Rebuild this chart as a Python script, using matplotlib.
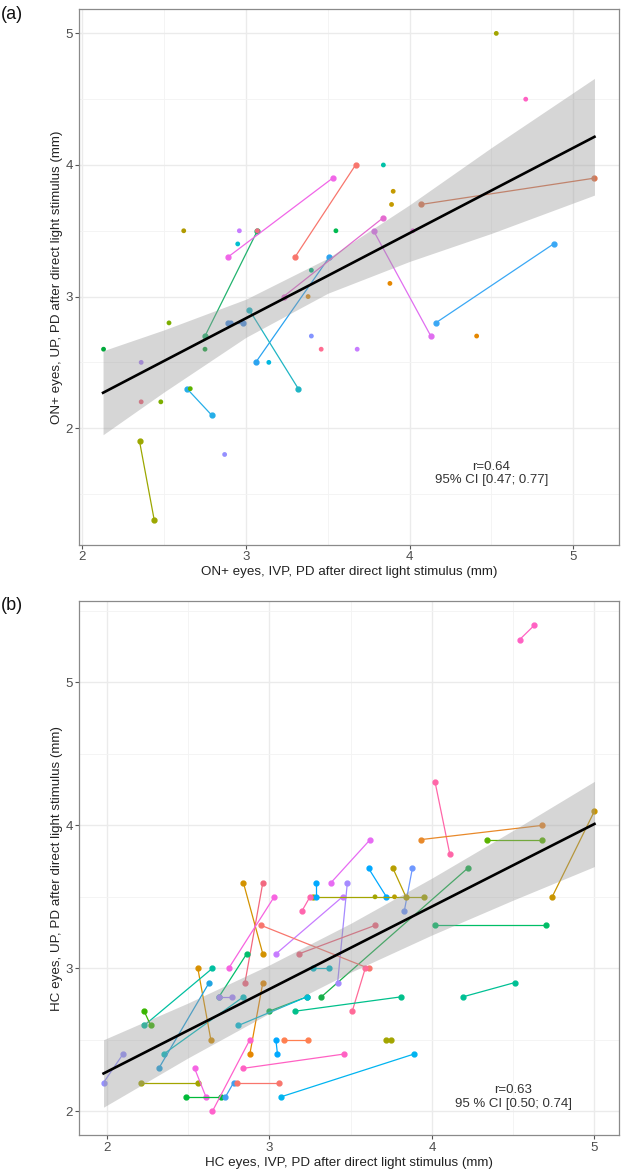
import numpy as np
import matplotlib
matplotlib.use("Agg")
import matplotlib.pyplot as plt
from matplotlib.ticker import MultipleLocator

plt.rcParams['font.family'] = ['Liberation Sans', 'DejaVu Sans']

# ---- panel (a): ON+ eyes, paired eyes joined by a line ----
a_x1 = [3.07, 2.89, 3.30, 3.06, 3.23, 4.07, 3.78, 4.88, 2.89, 3.02, 2.64, 2.35]
a_y1 = [3.50, 3.30, 3.30, 2.50, 3.00, 3.70, 3.50, 3.40, 2.80, 2.90, 2.30, 1.90]
a_x2 = [2.75, 3.53, 3.67, 3.51, 3.84, 5.13, 4.13, 4.16, 2.98, 3.32, 2.79, 2.44]
a_y2 = [2.70, 3.90, 4.00, 3.30, 3.60, 3.90, 2.70, 2.80, 2.80, 2.30, 2.10, 1.30]
a_line_colors = ['#22B36E', '#F166E8', '#F8766D', '#2AA3F0', '#E46BD0', '#DB7650',
                 '#E06EF0', '#3AA8F5', '#4C8FE0', '#1FB5C4', '#25AEE8', '#9CA700']

# single eyes (partner not shown / overlapping)
a_sx = [2.62, 2.96, 3.07, 2.95, 3.55, 3.40, 4.53, 4.71, 3.84, 3.90, 3.89, 4.02,
        3.88, 4.41, 3.68, 2.13, 2.53, 2.75, 2.36, 2.91, 3.14, 3.38, 3.40, 3.46,
        2.66, 2.36, 2.48, 2.87]
a_sy = [3.50, 3.50, 3.50, 3.40, 3.50, 3.20, 5.00, 4.50, 4.00, 3.80, 3.70, 3.50,
        3.10, 2.70, 2.60, 2.60, 2.80, 2.60, 2.50, 2.80, 2.50, 3.00, 2.70, 2.60,
        2.30, 2.20, 2.20, 1.80]
a_single_colors = ['#B09A00', '#C77CFF', '#F0697F', '#00BFD0', '#00BA50', '#00AE7A',
                   '#A3A500', '#FF61C3', '#00C1A7', '#C49A00', '#C49A00', '#F564E3',
                   '#E58700', '#E58700', '#C77CFF', '#00A93B', '#7CAE00', '#1AA640',
                   '#A982F5', '#4C8FE0', '#00B8E0', '#D98C1A', '#8494FF', '#FF6C91',
                   '#5BB300', '#F0647A', '#7CAE00', '#9590FF']

# regression line and 95% band as drawn in the figure
a_fit_x = [2.127, 2.5, 3.0, 3.5, 4.0, 4.5, 5.13]
a_fit_y = [2.269, 2.511, 2.835, 3.158, 3.482, 3.806, 4.214]
a_fit_lo = [1.950, 2.275, 2.690, 3.025, 3.267, 3.480, 3.771]
a_fit_hi = [2.588, 2.747, 2.980, 3.291, 3.697, 4.132, 4.658]

# ---- panel (b): HC eyes ----
b_x1 = [4.54, 4.02, 3.93, 4.34, 5.00, 4.22, 3.88, 3.76, 3.61, 3.38, 3.04, 3.48,
        3.27, 4.02, 3.65, 2.95, 3.59, 3.16, 4.19, 3.72, 3.07, 2.84, 3.29, 3.25,
        3.27, 2.84, 2.96, 3.03, 2.86, 2.69, 2.84, 2.56, 2.65, 2.63, 2.96, 3.00,
        2.81, 2.23, 2.21, 2.54, 2.49, 2.73, 2.80, 2.65, 3.04, 3.09, 1.98]
b_y1 = [5.30, 4.30, 3.90, 3.90, 4.10, 3.70, 3.70, 3.70, 3.70, 3.60, 3.10, 3.60,
        3.50, 3.30, 3.30, 3.30, 3.00, 2.70, 2.80, 2.50, 2.10, 2.30, 3.60, 3.50,
        3.00, 3.60, 3.60, 3.50, 3.10, 2.80, 2.80, 3.00, 3.00, 2.90, 2.90, 2.70,
        2.60, 2.70, 2.20, 2.30, 2.10, 2.10, 2.20, 2.00, 2.50, 2.50, 2.20]
b_x2 = [4.63, 4.11, 4.68, 4.68, 4.74, 3.32, 3.83, 3.84, 3.72, 3.62, 3.45, 3.42,
        3.95, 4.70, 3.18, 3.61, 3.51, 3.81, 4.51, 3.75, 3.89, 3.46, 3.29, 3.20,
        3.37, 2.96, 2.85, 2.75, 2.69, 2.77, 2.35, 2.64, 2.23, 2.32, 2.88, 3.23,
        3.23, 2.27, 2.56, 2.61, 2.70, 2.78, 3.06, 2.88, 3.05, 3.24, 2.10]
b_y2 = [5.40, 3.80, 4.00, 3.90, 3.50, 2.80, 3.40, 3.50, 3.50, 3.90, 3.50, 2.90,
        3.50, 3.30, 3.10, 3.00, 2.70, 2.80, 2.90, 2.50, 2.40, 2.40, 3.50, 3.40,
        3.00, 3.10, 2.90, 3.00, 2.80, 2.80, 2.40, 2.50, 2.60, 2.30, 2.40, 2.80,
        2.80, 2.60, 2.20, 2.10, 2.10, 2.20, 2.20, 2.50, 2.40, 2.50, 2.40]
b_line_colors = ['#FF61C3', '#FF66A8', '#E8892A', '#5BB300', '#C99500', '#16B04A',
                 '#6F98FF', '#B79F00', '#00A9FF', '#E76BF3', '#C77CFF', '#A58AFF',
                 '#A3A500', '#00BE67', '#F0677E', '#F8766D', '#FF6A98', '#00C08B',
                 '#00C094', '#A3A500', '#00B4F0', '#FF61C3', '#00A9FF', '#FF65AE',
                 '#00B8C8', '#D39200', '#F2687F', '#F763E0', '#00BE6C', '#A58AFF',
                 '#00BFC4', '#D89000', '#00BFA0', '#1FA3E0', '#E58700', '#00BA50',
                 '#00BCD8', '#39B600', '#A3A500', '#F564E3', '#00BA38', '#3EA0F0',
                 '#F8766D', '#FF61CC', '#00A9FF', '#FF7F50', '#9590FF']
b_sx = [3.65, 3.77]
b_sy = [3.50, 3.50]
b_single_colors = ['#A3A500', '#B79F00']

b_fit_x = [1.98, 2.5, 3.0, 3.5, 4.0, 4.5, 5.0]
b_fit_y = [2.264, 2.565, 2.854, 3.143, 3.432, 3.721, 4.010]
b_fit_lo = [2.028, 2.373, 2.685, 2.972, 3.233, 3.477, 3.712]
b_fit_hi = [2.500, 2.757, 3.023, 3.314, 3.631, 3.965, 4.308]

panels = [
    dict(tag='(a)', x1=a_x1, y1=a_y1, x2=a_x2, y2=a_y2, lc=a_line_colors,
         sx=a_sx, sy=a_sy, sc=a_single_colors,
         fx=a_fit_x, fy=a_fit_y, flo=a_fit_lo, fhi=a_fit_hi,
         xlabel='ON+ eyes, IVP, PD after direct light stimulus (mm)',
         ylabel='ON+ eyes, UP, PD after direct light stimulus (mm)',
         stat='r=0.64\n95% CI [0.47; 0.77]', stat_xy=(4.5, 1.655),
         rect=[0.1266, 0.5361, 0.8654, 0.4562]),
    dict(tag='(b)', x1=b_x1, y1=b_y1, x2=b_x2, y2=b_y2, lc=b_line_colors,
         sx=b_sx, sy=b_sy, sc=b_single_colors,
         fx=b_fit_x, fy=b_fit_y, flo=b_fit_lo, fhi=b_fit_hi,
         xlabel='HC eyes, IVP, PD after direct light stimulus (mm)',
         ylabel='HC eyes, UP, PD after direct light stimulus (mm)',
         stat='r=0.63\n95 % CI [0.50; 0.74]', stat_xy=(4.5, 2.10),
         rect=[0.1266, 0.0328, 0.8654, 0.4553]),
]


def expand(v):
    lo, hi = min(v), max(v)
    pad = 0.05 * (hi - lo)
    return lo - pad, hi + pad


fig = plt.figure(figsize=(6.24, 11.74), dpi=100)

for p in panels:
    ax = fig.add_axes(p['rect'])
    xs = p['x1'] + p['x2'] + p['sx']
    ys = p['y1'] + p['y2'] + p['sy']

    for x1, y1, x2, y2, c in zip(p['x1'], p['y1'], p['x2'], p['y2'], p['lc']):
        ax.plot([x1, x2], [y1, y2], '-o', color=c, lw=0.9, ms=3.5, zorder=3)
    ax.scatter(p['sx'], p['sy'], s=12, color=p['sc'], zorder=3, linewidths=0)

    # smooth band, then the fitted line
    ax.fill_between(p['fx'], p['flo'], p['fhi'], color='#999999',
                    alpha=0.4, lw=0, zorder=4)
    ax.plot(p['fx'], p['fy'], color='black', lw=1.9, zorder=5)

    ax.text(p['stat_xy'][0], p['stat_xy'][1], p['stat'], ha='center', va='center',
            fontsize=9.5, color='#333333', linespacing=1.15, zorder=6)

    ax.set_xlim(*expand(xs))
    ax.set_ylim(*expand(ys))
    ax.xaxis.set_major_locator(MultipleLocator(1))
    ax.yaxis.set_major_locator(MultipleLocator(1))
    ax.xaxis.set_minor_locator(MultipleLocator(0.5))
    ax.yaxis.set_minor_locator(MultipleLocator(0.5))
    ax.grid(True, which='major', color='#EBEBEB', lw=1.0, zorder=0)
    ax.grid(True, which='minor', color='#F3F3F3', lw=0.6, zorder=0)
    ax.set_axisbelow(True)
    ax.tick_params(which='major', length=3, width=0.8, color='#555555',
                   labelsize=9.5, labelcolor='#4D4D4D', pad=1.5)
    ax.tick_params(which='minor', length=0)
    for sp in ax.spines.values():
        sp.set_color('#8A8A8A')
        sp.set_linewidth(0.9)
    ax.set_xlabel(p['xlabel'], fontsize=9.6, color='#222222', labelpad=2)
    ax.set_ylabel(p['ylabel'], fontsize=9.6, color='#222222', labelpad=2)

    top = p['rect'][1] + p['rect'][3]
    fig.text(0.002, top + 0.003, p['tag'], fontsize=13, ha='left', va='top',
             color='#111111')

fig.savefig('out.png', dpi=100)
